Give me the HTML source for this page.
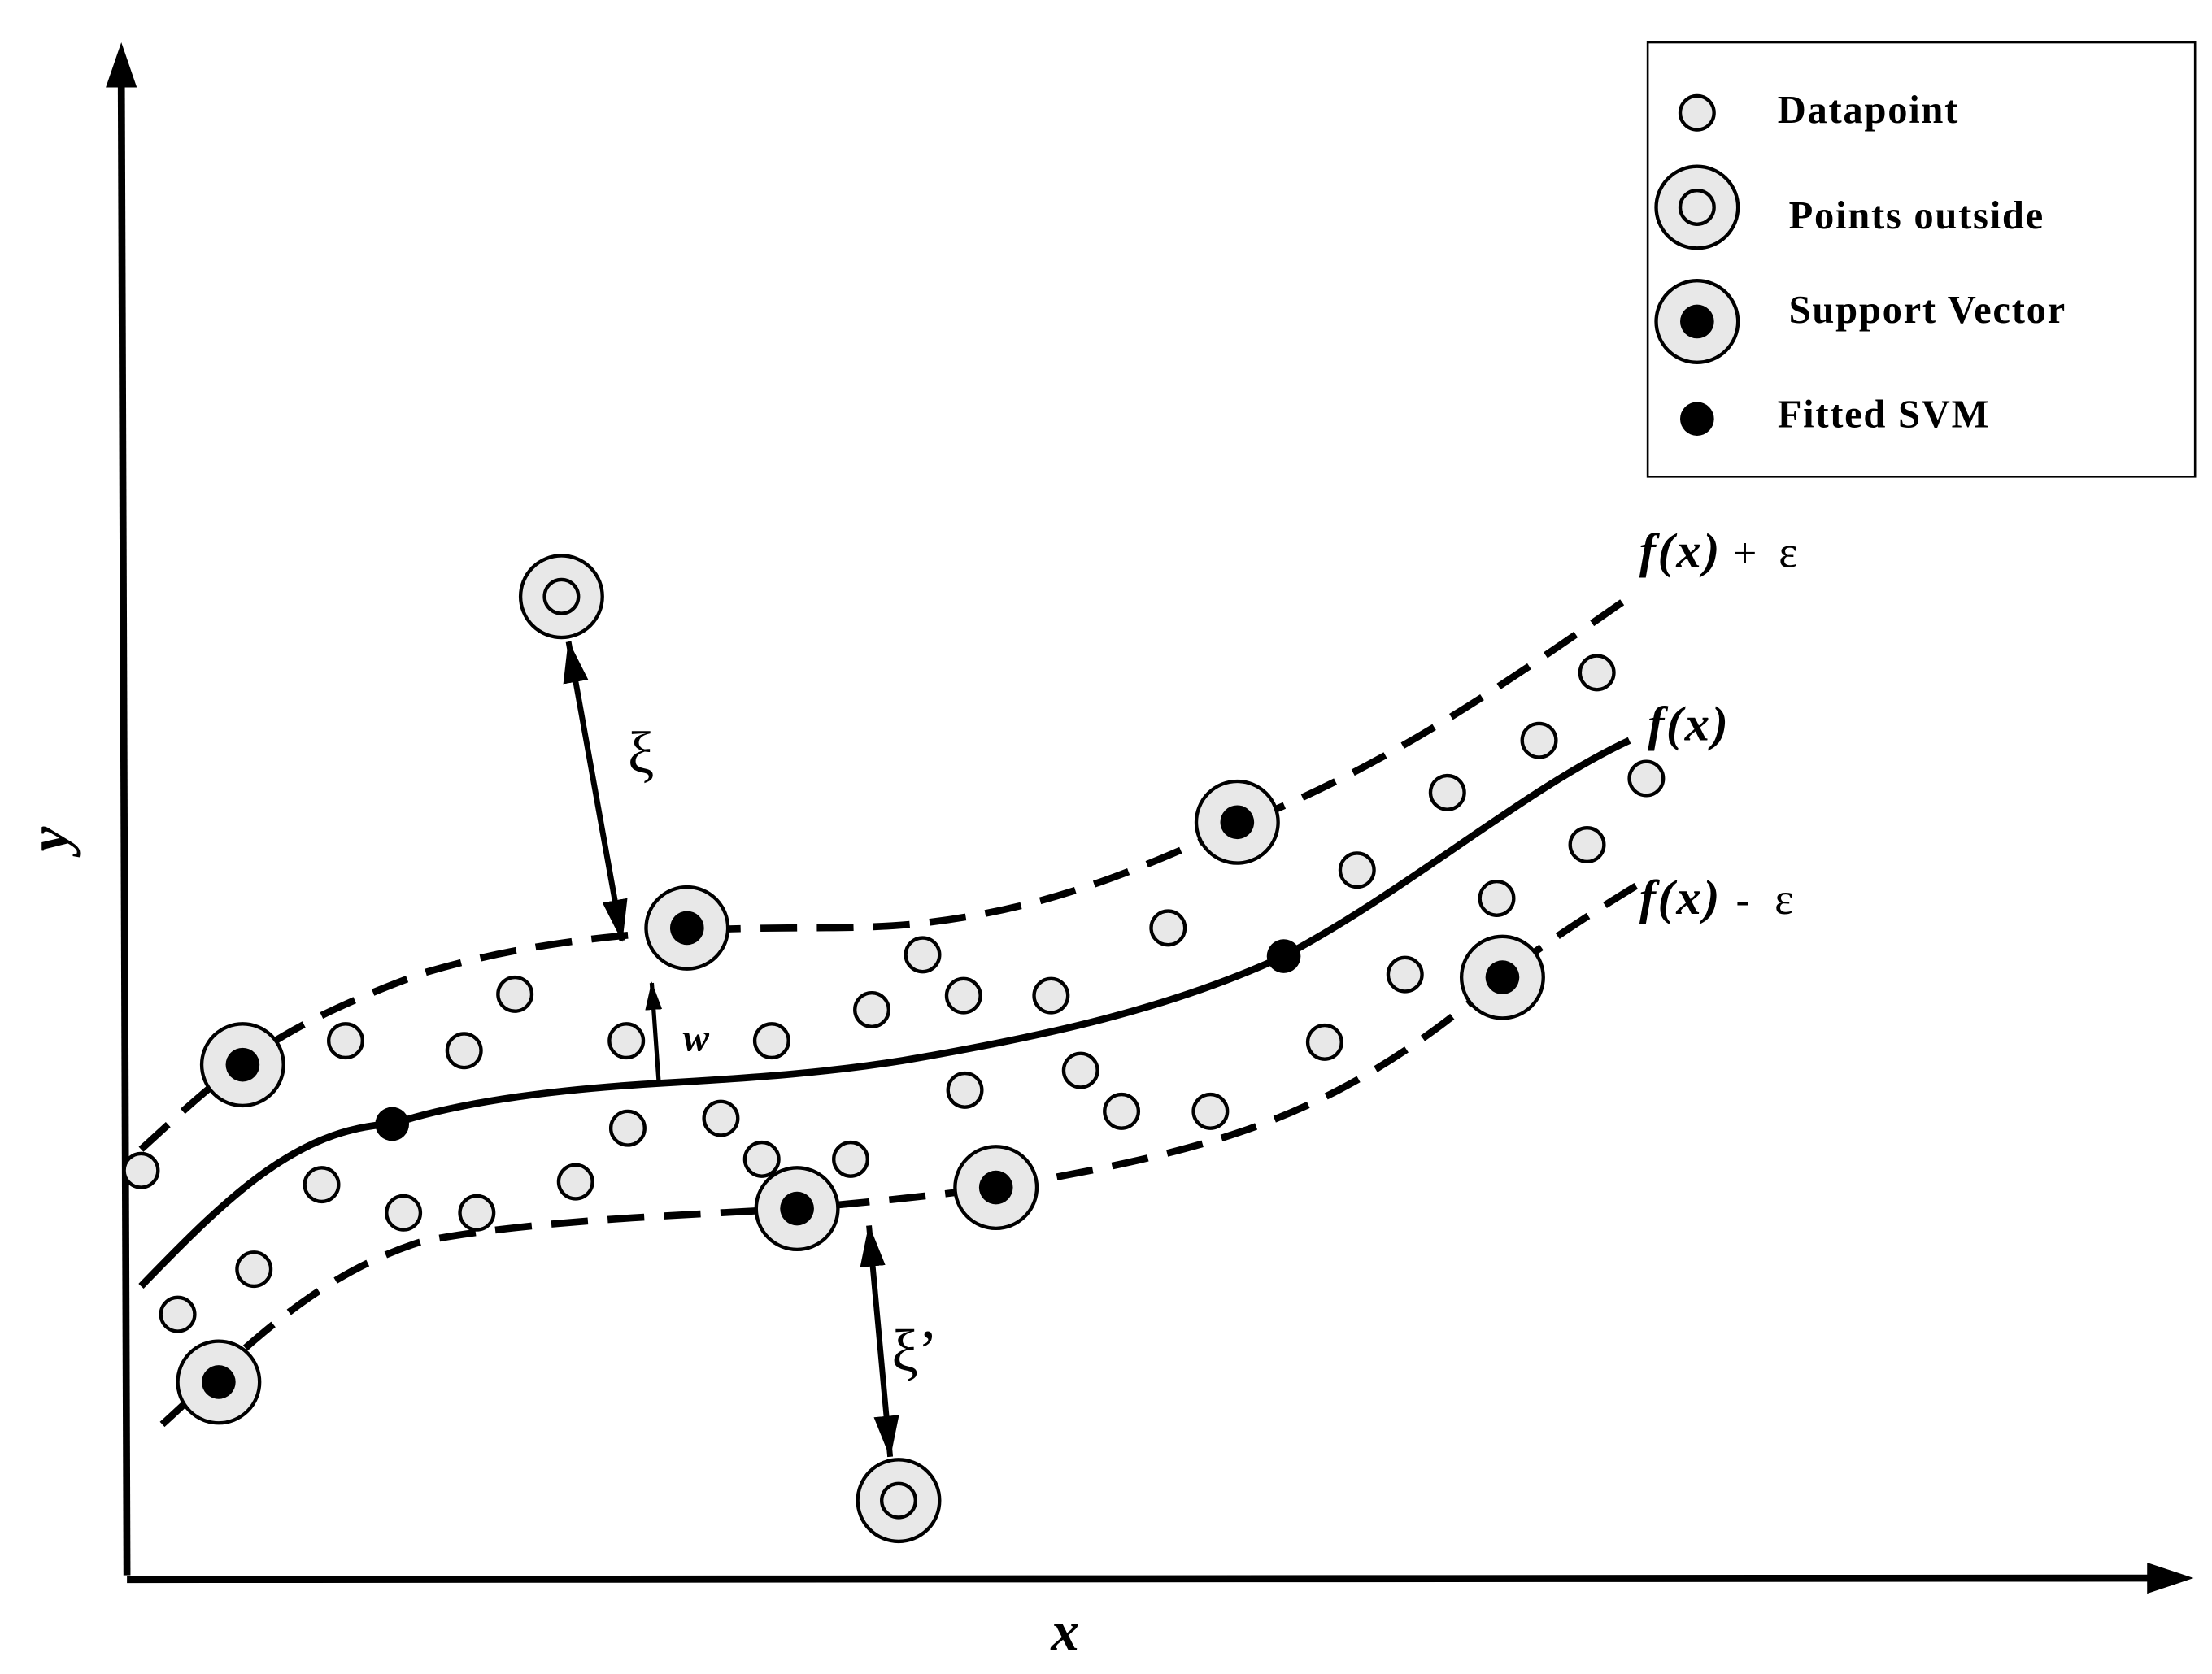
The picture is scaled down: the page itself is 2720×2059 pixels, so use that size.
<!DOCTYPE html>
<html><head><meta charset="utf-8"><style>
html,body{margin:0;padding:0;background:#fff;}
svg{display:block;}
text{font-family:"Liberation Serif",serif;fill:#000;}
</style></head><body>
<svg width="2720" height="2059" viewBox="0 0 1568 1187" preserveAspectRatio="none" xmlns="http://www.w3.org/2000/svg">
<defs>
<marker id="ah" markerWidth="20" markerHeight="12" refX="19" refY="6" orient="auto" markerUnits="userSpaceOnUse">
<path d="M0,0 L20,6 L0,12 z" fill="#000"/></marker>
<marker id="ah2" markerWidth="30" markerHeight="18" refX="29" refY="9" orient="auto-start-reverse" markerUnits="userSpaceOnUse">
<path d="M0,0 L30,9 L0,18 z" fill="#000"/></marker>
</defs>
<!-- axes -->
<line x1="90" y1="1117" x2="86" y2="55" stroke="#000" stroke-width="5"/>
<path d="M86,30 L75,62 L97,62 z" fill="#000"/>
<line x1="90" y1="1120" x2="1530" y2="1119" stroke="#000" stroke-width="5"/>
<path d="M1555,1119 L1522,1108 L1522,1130 z" fill="#000"/>
<text x="48" y="595" font-size="40" font-weight="bold" font-style="italic" transform="rotate(-90 48 595)" text-anchor="middle">y</text>
<text x="755" y="1170" font-size="40" font-weight="bold" font-style="italic" text-anchor="middle">x</text>
<!-- legend -->
<rect x="1168" y="30" width="388" height="308" fill="#fff" stroke="#000" stroke-width="1.5"/>
<g stroke="#000" stroke-width="2.5">
<circle cx="1203" cy="80" r="12" fill="#e8e8e8"/>
<circle cx="1203" cy="147" r="29" fill="#e8e8e8"/>
<circle cx="1203" cy="147" r="12" fill="#e8e8e8"/>
<circle cx="1203" cy="228" r="29" fill="#e8e8e8"/>
</g>
<circle cx="1203" cy="228" r="12" fill="#000"/>
<circle cx="1203" cy="297" r="12" fill="#000"/>
<g font-size="28" font-weight="bold" letter-spacing="1">
<text x="1260" y="87">Datapoint</text>
<text x="1268" y="162">Points outside</text>
<text x="1268" y="229">Support Vector</text>
<text x="1260" y="303">Fitted SVM</text>
</g>
<!-- curves -->
<path d="M100,912 C160,850 210,800 278,797 C330,780 400,772 470,768 C540,764 590,760 640,752 C740,735 830,715 910,678 C1000,630 1080,560 1155,525" fill="none" stroke="#000" stroke-width="5"/>
<path d="M100,815 C160,760 190,730 300,690 C360,672 420,664 487,660 C560,656 600,660 650,655 C740,645 800,620 877,585 C980,545 1060,490 1160,420" fill="none" stroke="#000" stroke-width="5" stroke-dasharray="26,14"/>
<path d="M115,1010 C170,960 220,905 300,880 C380,865 480,862 565,857 C620,852 660,848 706,842 C780,830 850,815 900,795 C970,768 1020,730 1065,692 C1100,665 1140,640 1170,622" fill="none" stroke="#000" stroke-width="5" stroke-dasharray="26,14"/>
<!-- datapoints -->
<g fill="#e8e8e8" stroke="#000" stroke-width="2.5">
<circle cx="100" cy="830" r="12"/><circle cx="126" cy="932" r="12"/><circle cx="180" cy="900" r="12"/>
<circle cx="228" cy="840" r="12"/><circle cx="245" cy="738" r="12"/><circle cx="286" cy="860" r="12"/>
<circle cx="338" cy="860" r="12"/><circle cx="329" cy="745" r="12"/><circle cx="365" cy="705" r="12"/>
<circle cx="408" cy="838" r="12"/><circle cx="444" cy="738" r="12"/><circle cx="445" cy="800" r="12"/>
<circle cx="511" cy="793" r="12"/><circle cx="540" cy="822" r="12"/><circle cx="547" cy="738" r="12"/>
<circle cx="603" cy="822" r="12"/><circle cx="618" cy="716" r="12"/><circle cx="654" cy="677" r="12"/>
<circle cx="683" cy="706" r="12"/><circle cx="684" cy="773" r="12"/><circle cx="745" cy="706" r="12"/>
<circle cx="766" cy="759" r="12"/><circle cx="795" cy="788" r="12"/><circle cx="828" cy="658" r="12"/>
<circle cx="858" cy="788" r="12"/><circle cx="939" cy="739" r="12"/><circle cx="962" cy="617" r="12"/>
<circle cx="996" cy="691" r="12"/><circle cx="1026" cy="562" r="12"/><circle cx="1061" cy="637" r="12"/>
<circle cx="1091" cy="525" r="12"/><circle cx="1125" cy="599" r="12"/><circle cx="1132" cy="477" r="12"/>
<circle cx="1167" cy="552" r="12"/>
<circle cx="172" cy="755" r="29"/><circle cx="487" cy="658" r="29"/><circle cx="877" cy="583" r="29"/>
<circle cx="565" cy="857" r="29"/><circle cx="706" cy="842" r="29"/><circle cx="1065" cy="693" r="29"/>
<circle cx="155" cy="980" r="29"/>
<circle cx="398" cy="423" r="29"/><circle cx="637" cy="1064" r="29"/>
<circle cx="398" cy="423" r="12"/><circle cx="637" cy="1064" r="12"/>
</g>
<g fill="#000">
<circle cx="172" cy="755" r="12"/><circle cx="487" cy="658" r="12"/><circle cx="877" cy="583" r="12"/>
<circle cx="565" cy="857" r="12"/><circle cx="706" cy="842" r="12"/><circle cx="1065" cy="693" r="12"/>
<circle cx="155" cy="980" r="12"/>
<circle cx="278" cy="797" r="12"/><circle cx="910" cy="678" r="12"/>
</g>
<!-- arrows -->
<line x1="403" y1="455" x2="441" y2="667" stroke="#000" stroke-width="4" marker-start="url(#ah2)" marker-end="url(#ah2)"/>
<text x="445" y="548" font-size="42">ξ</text>
<line x1="616" y1="869" x2="631" y2="1033" stroke="#000" stroke-width="4" marker-start="url(#ah2)" marker-end="url(#ah2)"/>
<text x="632" y="972" font-size="42">ξ’</text>
<line x1="467" y1="768" x2="462" y2="697" stroke="#000" stroke-width="3" marker-end="url(#ah)"/>
<text x="484" y="745" font-size="28" font-weight="bold" font-style="italic">w</text>
<!-- labels -->
<text x="1162" y="402" font-size="35" font-weight="bold" font-style="italic" letter-spacing="1.5">f(x)<tspan font-style="normal" font-weight="normal" font-size="30" dx="8">+</tspan><tspan font-style="normal" font-weight="normal" font-size="32" dx="14">ε</tspan></text>
<text x="1168" y="525" font-size="35" font-weight="bold" font-style="italic" letter-spacing="1.5">f(x)</text>
<text x="1162" y="648" font-size="35" font-weight="bold" font-style="italic" letter-spacing="1.5">f(x)<tspan font-style="normal" font-weight="normal" font-size="30" dx="10">-</tspan><tspan font-style="normal" font-weight="normal" font-size="32" dx="16">ε</tspan></text>
</svg>
</body></html>
